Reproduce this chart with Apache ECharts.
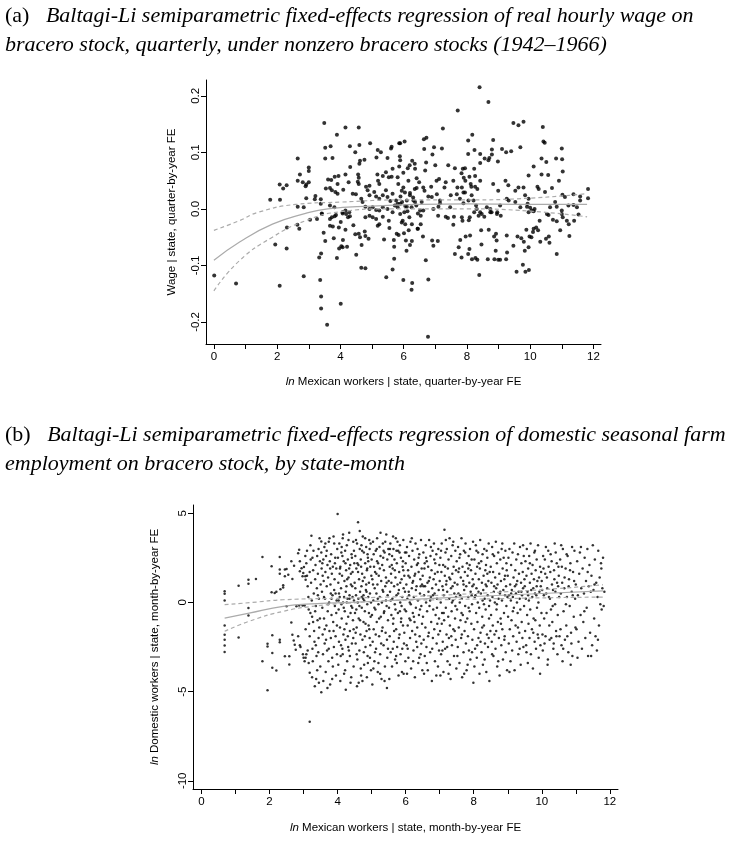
<!DOCTYPE html>
<html>
<head>
<meta charset="utf-8">
<script src="https://cdn.jsdelivr.net/npm/echarts@6/dist/echarts.min.js"></script>
<style>
html, body { margin: 0; padding: 0; background: #fff; }
#chart { width: 751px; height: 846px; }
</style>
</head>
<body>
<div id="chart"></div>
<script>
// ticks
const xTicks = [0, 1, 2, 3, 4, 5, 6, 7, 8, 9, 10, 11, 12]
const xLabels = [0, 2, 4, 6, 8, 10, 12]
const wageTicks = [-0.2, -0.1, 0, 0.1, 0.2]
const empTicks = [-10, -5, 0, 5]

// panel (a): wage residuals vs ln Mexican workers
const wageDots = [
    [3.49,0.152],[4.16,0.144],[4.58,0.144],[3.89,0.131],[4.94,0.116],[5.86,0.116],[3.52,0.108],[3.69,0.111],[4.30,0.111],[4.60,0.113],
    [4.47,0.100],[5.18,0.104],[5.28,0.100],[5.60,0.107],[5.62,0.110],[5.88,0.093],[5.14,0.091],[5.49,0.090],[2.65,0.089],[3.52,0.089],
    [3.75,0.090],[4.76,0.087],[4.62,0.085],[4.60,0.080],[3.00,0.073],[3.00,0.067],[2.72,0.061],[4.31,0.074],[2.65,0.050],[2.81,0.047],
    [2.92,0.043],[2.90,0.040],[3.00,0.047],[2.08,0.043],[2.19,0.036],[2.30,0.042],[3.61,0.052],[3.71,0.051],[3.82,0.057],[3.94,0.058],
    [4.16,0.061],[4.56,0.061],[4.58,0.055],[3.91,0.044],[4.26,0.047],[4.55,0.048],[4.58,0.044],[4.81,0.039],[4.92,0.041],[5.17,0.061],
    [5.19,0.050],[5.23,0.044],[5.34,0.058],[5.44,0.065],[5.53,0.056],[5.62,0.057],[5.65,0.071],[5.86,0.075],[5.81,0.056],[5.83,0.044],
    [3.54,0.036],[3.67,0.037],[3.73,0.033],[3.84,0.030],[3.91,0.027],[4.09,0.034],[4.39,0.027],[4.49,0.026],[3.21,0.023],[3.19,0.017],
    [3.38,0.017],[1.78,0.016],[2.09,0.016],[2.92,0.019],[4.66,0.018],[4.70,0.012],[4.86,0.033],[4.92,0.024],[5.07,0.030],[5.13,0.022],
    [5.23,0.018],[5.34,0.024],[5.44,0.033],[5.49,0.021],[5.65,0.027],[5.76,0.015],[5.81,0.009],[2.65,0.004],[2.84,0.003],[3.38,0.009],
    [3.67,0.006],[3.81,0.003],[3.42,-0.009],[4.07,-0.008],[4.18,-0.009],[4.28,-0.006],[4.79,0.004],[4.92,0.000],[5.02,0.003],[5.13,-0.002],
    [5.23,-0.003],[5.34,0.003],[5.49,0.000],[5.65,-0.006],[5.81,0.003],[5.95,0.012],[6.05,0.005],[6.12,-0.004],[5.72,0.006],[5.58,0.014],
    [6.30,0.020],[6.40,0.006],[6.45,-0.008],[5.90,0.022],[6.20,0.028],
    [0.01,-0.118],[0.70,-0.132],[2.08,-0.136],[2.84,-0.119],[3.36,-0.126],[3.39,-0.155],[3.39,-0.176],[3.58,-0.205],[4.01,-0.168],[1.94,-0.063],
    [2.30,-0.070],[2.31,-0.033],[2.64,-0.028],[2.70,-0.035],[3.04,-0.019],[3.26,-0.018],[3.41,-0.008],[3.33,-0.086],[3.39,-0.079],[3.47,-0.042],
    [3.52,-0.057],[3.67,-0.018],[3.73,-0.015],[3.82,-0.013],[3.86,-0.011],[3.67,-0.030],[3.76,-0.031],[3.79,-0.052],[3.89,-0.087],[3.95,-0.033],
    [4.01,-0.023],[4.07,-0.006],[4.16,-0.003],[3.96,-0.070],[4.03,-0.066],[4.07,-0.068],[4.21,-0.067],[4.08,-0.055],[4.16,-0.037],[4.24,-0.015],
    [4.30,-0.013],[4.41,-0.029],[4.47,-0.045],[4.58,-0.044],[4.62,-0.050],[4.77,-0.040],[4.79,-0.048],[4.50,-0.081],[4.67,-0.064],[4.66,-0.104],
    [4.79,-0.105],[4.89,-0.053],[4.79,-0.015],[4.92,-0.012],[5.02,-0.015],[5.13,-0.018],[5.18,-0.030],[5.23,-0.027],[5.34,-0.014],[5.53,-0.021],
    [5.55,-0.034],[5.38,-0.054],[5.45,-0.121],[5.65,-0.107],[5.70,-0.088],[5.70,-0.067],[5.78,-0.044],[5.84,-0.046],[5.69,-0.055],
    [8.40,0.215],[8.68,0.189],[7.71,0.174],[9.47,0.152],[9.63,0.148],[9.79,0.154],[10.40,0.145],[10.42,0.119],[10.46,0.117],[7.24,0.142],
    [5.89,0.116],[6.03,0.119],[6.64,0.123],[6.72,0.126],[6.65,0.106],[6.96,0.109],[7.21,0.107],[8.17,0.131],[8.04,0.121],[8.83,0.122],
    [9.69,0.109],[11.00,0.107],[8.04,0.097],[8.24,0.104],[8.42,0.097],[8.56,0.089],[8.68,0.086],[8.71,0.090],[8.79,0.096],[8.79,0.105],
    [8.98,0.084],[9.11,0.106],[9.24,0.100],[9.40,0.102],[6.27,0.085],[6.35,0.080],[6.19,0.077],[5.89,0.086],[6.71,0.082],[6.68,0.068],
    [7.00,0.077],[6.91,0.096],[7.41,0.077],[7.62,0.072],[7.87,0.071],[7.94,0.072],[7.83,0.063],[7.90,0.055],[7.95,0.050],[8.08,0.057],
    [8.23,0.071],[8.26,0.058],[8.42,0.081],[8.42,0.050],[5.99,0.064],[6.13,0.072],[6.36,0.071],[6.15,0.050],[6.41,0.054],[6.49,0.047],
    [6.41,0.037],[6.35,0.035],[6.62,0.038],[6.66,0.032],[6.87,0.039],[7.04,0.050],[7.12,0.053],[7.29,0.038],[7.33,0.047],[7.57,0.050],
    [7.70,0.038],[7.84,0.038],[7.89,0.029],[7.94,0.029],[8.12,0.044],[8.14,0.039],[8.26,0.039],[8.33,0.035],[8.83,0.044],[9.22,0.050],
    [9.31,0.042],[8.99,0.032],[9.95,0.059],[10.11,0.075],[10.36,0.089],[10.51,0.083],[10.36,0.061],[10.57,0.060],[10.82,0.089],[11.01,0.088],
    [11.03,0.066],[10.91,0.050],[9.53,0.032],[9.63,0.038],[9.79,0.038],[9.84,0.024],[9.95,0.018],[10.23,0.039],[10.27,0.035],[10.47,0.030],
    [10.69,0.037],[11.83,0.035],[11.83,0.019],[11.02,0.025],[11.10,0.021],[11.37,0.026],[11.58,0.022],[7.49,0.024],[7.68,0.026],[7.78,0.018],
    [7.05,0.026],[6.89,0.021],[6.78,0.022],[7.15,0.015],[5.94,0.032],[5.99,0.038],[6.04,0.029],[6.20,0.024],[6.10,0.015],[6.31,0.015],
    [6.36,0.012],[6.57,0.012],[6.52,-0.003],[8.15,0.024],[8.21,0.015],[8.29,0.006],[8.31,0.000],[8.63,0.003],[8.74,0.000],[9.05,0.006],
    [9.26,0.018],[9.32,0.015],[9.53,0.012],[9.69,0.003],[9.90,0.004],[9.92,0.009],[10.00,0.002],[10.05,-0.003],[10.79,0.012],[10.84,0.004],
    [10.63,0.003],[11.00,-0.003],[11.21,0.006],[11.37,0.007],[11.58,0.015],[11.48,0.003],[7.10,0.004],[7.15,0.010],[6.94,0.000],[7.47,0.003],
    [7.89,0.010],[8.05,0.015],[5.89,0.009],[6.10,0.004],[6.25,0.003],[8.42,-0.006],[8.47,-0.009],[8.74,-0.006],[8.95,-0.009],[10.14,0.000],
    [10.53,-0.009],[11.00,-0.009],
    [6.77,-0.226],[5.99,-0.126],[6.27,-0.131],[6.25,-0.143],[6.78,-0.125],[6.70,-0.091],[8.39,-0.117],[9.57,-0.111],[9.77,-0.099],[9.85,-0.111],
    [9.96,-0.108],[10.84,-0.080],[6.07,-0.056],[6.26,-0.057],[6.20,-0.064],[6.09,-0.074],[6.01,-0.043],[6.16,-0.038],[6.45,-0.035],[6.61,-0.049],
    [6.54,-0.027],[6.90,-0.056],[6.94,-0.065],[7.08,-0.057],[7.62,-0.080],[7.74,-0.068],[7.83,-0.086],[7.79,-0.055],[7.96,-0.049],[8.04,-0.080],
    [8.10,-0.047],[8.08,-0.071],[8.16,-0.089],[8.27,-0.087],[8.33,-0.090],[8.46,-0.063],[8.45,-0.038],[8.69,-0.037],[8.86,-0.049],[8.94,-0.056],
    [8.92,-0.044],[8.91,-0.074],[8.66,-0.089],[8.87,-0.089],[8.99,-0.090],[9.05,-0.090],[9.24,-0.089],[9.27,-0.077],[9.26,-0.047],[9.47,-0.065],
    [9.60,-0.049],[9.72,-0.052],[9.83,-0.074],[9.80,-0.058],[9.95,-0.068],[9.88,-0.037],[9.98,-0.049],[10.04,-0.050],[10.09,-0.041],[10.11,-0.035],
    [10.19,-0.033],[10.25,-0.038],[10.30,-0.021],[10.32,-0.058],[10.50,-0.053],[10.59,-0.049],[10.61,-0.060],[10.95,-0.038],[11.24,-0.048],[11.16,-0.021],
    [11.22,-0.027],[11.03,-0.015],[10.84,-0.022],[10.72,-0.019],[10.58,-0.011],[11.39,-0.021],[11.53,-0.010],[5.89,-0.009],[5.97,-0.021],[6.05,-0.027],
    [6.18,-0.015],[6.26,-0.027],[6.44,-0.035],[6.54,-0.012],[6.62,-0.003],[5.94,-0.024],[6.02,-0.006],[7.09,-0.012],[7.33,-0.014],[7.40,-0.016],
    [7.57,-0.028],[7.59,-0.014],[7.84,-0.015],[7.86,-0.021],[8.06,-0.020],[8.09,-0.015],[8.23,-0.006],[8.37,-0.012],[8.55,-0.014],[8.78,-0.006],
    [8.96,-0.006],[9.07,-0.012],[9.95,-0.006],[10.11,-0.004]
]
const wageFit = [[0,-0.091],[0.8,-0.059],[1.85,-0.027],[2.9,-0.008],[3.6,0.000],[5,0.005],[6.5,0.008],[8,0.009],[10,0.008],[11.8,0.008]]
const wageHi = [[0,-0.038],[0.8,-0.021],[1.4,-0.006],[2.6,0.008],[4,0.012],[6,0.016],[8,0.016],[10,0.019],[11.8,0.027]]
const wageLo = [[0,-0.145],[0.8,-0.092],[1.85,-0.050],[2.9,-0.021],[4,-0.005],[5.5,0.000],[8,0.000],[10,-0.004],[11.8,-0.014]]

// panel (b): domestic employment residuals vs ln Mexican workers
const empDots = [
    [0.68,0.62],[0.68,0.49],[0.68,0.11],[0.68,-1.30],[0.68,-1.81],[0.68,-2.09],[0.68,-2.41],[0.68,-2.78],[1.09,0.93],[1.09,-1.97],
    [1.38,1.27],[1.38,1.04],[1.60,1.31],[1.38,-0.32],[1.38,-0.74],[1.79,2.54],[1.79,-3.30],[1.94,-4.92],[1.94,-2.32],[1.94,-2.47],
    [2.06,2.02],[2.06,0.57],[2.08,-1.84],[2.08,-2.83],[2.08,-3.66],[2.20,-3.82],[2.15,0.53],[2.20,0.60],[2.30,2.54],[2.30,1.84],
    [2.30,1.61],[2.30,-2.09],[2.30,-2.24],[2.32,0.74],[2.40,0.84],[2.40,0.96],[2.45,1.84],[2.45,1.46],[2.50,1.87],[2.55,1.55],
    [2.50,-0.22],[2.45,-3.02],[2.58,-3.48],[2.58,-3.02],
    [2.64,2.30],[2.72,2.06],[2.67,1.31],[2.64,-1.12],[2.67,-1.81],[2.71,-2.13],[2.74,-2.37],[2.77,-2.65],[2.84,2.76],[2.87,2.95],
    [2.89,2.30],[2.89,1.74],[2.94,1.92],[2.97,1.46],[2.99,1.65],[3.01,1.98],[3.05,1.46],[3.06,1.27],[2.79,-0.22],[2.87,-0.18],
    [2.97,-0.18],[3.03,-0.18],[2.84,-1.90],[2.89,-2.40],[2.91,-2.50],[2.98,-2.90],[3.00,-3.10],[3.03,-3.30],[3.06,-3.10],[3.08,-2.90],
    [3.05,2.6],[3.08,2.2],[3.1,1.5],[3.12,0.9],[3.14,0.3],[3.15,-0.4],[3.16,-1.2],[3.18,-1.9],[3.18,-3.95],[3.2,3.2],
    [3.21,2.4],[3.22,1.1],[3.23,3.73],[3.24,0.1],[3.25,-0.8],[3.26,-2.6],[3.27,-3.3],[3.28,1.8],[3.29,2.9],[3.3,0.5],
    [3.31,-1.6],[3.32,-2.2],[3.33,-4.7],[3.34,1.3],[3.35,2.1],[3.36,-0.2],[3.37,-4.29],[3.38,-3.0],[3.39,0.8],[3.4,2.6],
    [3.41,-1.0],[3.42,1.6],[3.43,-2.8],[3.44,3.0],[3.45,0.2],[3.46,-1.4],[3.47,3.6],[3.48,2.3],[3.49,-3.6],[3.5,1.0],
    [3.52,3.41],[3.52,-5.04],[3.12,-2.7],[3.2,-0.6],[3.28,-1.1],[3.36,-2.4],[3.44,-2.0],[3.1,2.9],[3.18,1.7],[3.26,2.5],
    [3.34,-0.5],[3.42,0.4],[3.48,-0.9],[3.15,-3.4],[3.4,-3.8],[3.06,-1.5],[3.25,-4.2],[3.45,-4.5],[3.18,-6.69],
    [3.52,2.8],[3.53,1.9],[3.54,0.6],[3.55,-0.3],[3.56,-1.8],[3.57,-2.9],[3.58,2.4],[3.59,1.2],[3.6,-0.9],[3.61,3.1],
    [3.62,-2.3],[3.63,0.2],[3.64,1.7],[3.65,-3.9],[3.66,2.6],[3.67,-1.3],[3.68,0.9],[3.69,-2.7],[3.7,2.1],[3.71,-0.5],
    [3.72,1.4],[3.73,-3.3],[3.74,3.4],[3.75,0.0],[3.76,-1.6],[3.77,2.3],[3.78,-4.6],[3.79,1.0],[3.8,-2.0],[3.81,2.7],
    [3.82,-0.7],[3.83,1.6],[3.84,-3.1],[3.85,0.4],[3.86,2.0],[3.87,-1.1],[3.88,3.7],[3.89,-2.5],[3.9,0.7],[3.91,1.3],
    [3.92,-0.2],[3.93,2.5],[3.94,-1.9],[3.95,-4.1],[3.96,1.9],[3.97,0.1],[3.98,-2.9],[3.99,3.0],[3.55,2.2],[3.62,-1.5],
    [3.68,2.9],[3.74,-2.6],[3.8,0.5],[3.86,-3.6],[3.92,2.2],[3.98,-1.3],[3.58,-4.4],[3.7,-4.8],[3.84,-4.3],[3.64,3.3],
    [3.76,3.6],[3.9,3.3],[3.6,0.3],[3.72,-0.1],[3.82,0.2],[3.94,0.5],[3.56,1.5],[3.66,-2.1],[3.78,1.9],[3.88,-1.6],[3.96,-0.6],
    [4.0,4.95],[4.01,2.5],[4.02,1.1],[4.03,-0.4],[4.04,-2.2],[4.05,3.3],[4.06,0.3],[4.07,-1.4],[4.08,2.0],[4.09,-3.0],
    [4.1,0.8],[4.11,2.8],[4.12,-0.9],[4.13,1.5],[4.14,-2.6],[4.15,3.6],[4.16,0.0],[4.17,-1.8],[4.18,2.3],[4.19,-4.0],
    [4.2,1.2],[4.21,-0.5],[4.22,2.9],[4.23,-2.1],[4.24,0.6],[4.25,1.8],[4.26,-1.2],[4.27,3.2],[4.28,-3.3],[4.29,0.2],
    [4.3,2.4],[4.31,-0.8],[4.32,1.4],[4.33,-2.7],[4.34,3.9],[4.35,0.4],[4.36,-1.6],[4.37,2.1],[4.38,-4.5],[4.39,1.0],
    [4.4,-0.2],[4.41,2.7],[4.42,-2.3],[4.43,0.9],[4.44,1.7],[4.45,-1.0],[4.46,3.4],[4.47,-3.6],[4.48,0.1],[4.49,2.2],
    [4.02,-3.5],[4.06,1.6],[4.1,-2.4],[4.14,2.6],[4.18,-0.3],[4.22,-3.8],[4.26,0.9],[4.3,-1.9],[4.34,1.9],[4.38,-0.6],
    [4.42,2.5],[4.46,-2.0],[4.04,0.5],[4.12,3.1],[4.2,-1.5],[4.28,1.3],[4.36,-3.0],[4.44,0.3],[4.08,-4.4],[4.24,-4.9],
    [4.4,-4.2],[4.16,3.8],[4.32,3.5],[4.48,2.9],[4.03,0.1],[4.11,-0.1],[4.19,0.3],[4.27,0.0],[4.35,0.2],[4.43,-0.3],
    [4.07,1.9],[4.23,2.2],[4.39,1.6],[4.15,-2.9],[4.31,-2.5],[4.47,-1.5],
    [4.5,1.1],[4.51,-0.6],[4.52,2.6],[4.53,-2.3],[4.54,0.4],[4.55,1.9],[4.56,-1.4],[4.57,3.3],[4.58,-3.2],[4.59,0.0],
    [4.6,4.5],[4.61,2.1],[4.62,-0.9],[4.63,1.3],[4.64,-2.7],[4.65,3.0],[4.66,0.6],[4.67,-1.8],[4.68,2.4],[4.69,-4.1],
    [4.7,0.9],[4.71,-0.3],[4.72,1.6],[4.73,-2.1],[4.74,3.7],[4.75,0.2],[4.76,-1.1],[4.77,2.8],[4.78,-3.5],[4.79,1.4],
    [4.8,-0.5],[4.81,2.2],[4.82,-2.5],[4.83,0.7],[4.84,3.1],[4.85,-1.6],[4.86,1.8],[4.87,-0.1],[4.88,-3.0],[4.89,2.5],
    [4.9,0.3],[4.91,-1.3],[4.92,1.1],[4.93,3.5],[4.94,-2.0],[4.95,0.5],[4.96,2.0],[4.97,-0.8],[4.98,-3.8],[4.99,1.5],
    [4.52,0.8],[4.56,-2.9],[4.6,1.7],[4.64,-0.2],[4.68,-3.7],[4.72,2.9],[4.76,0.4],[4.8,-1.9],[4.84,1.0],[4.88,2.7],
    [4.92,-0.6],[4.96,-2.4],[4.54,3.5],[4.62,-4.5],[4.7,3.2],[4.78,0.1],[4.86,-4.2],[4.94,3.0],[4.58,2.2],[4.66,-1.0],
    [4.74,1.2],[4.82,-1.2],[4.9,2.3],[4.98,0.0],[4.53,-1.7],[4.61,0.2],[4.69,2.0],[4.77,-2.8],[4.85,0.6],[4.93,-1.5],
    [4.57,-4.7],[4.73,-4.4],[4.89,-3.4],[4.65,4.0],[4.81,3.6],[4.97,3.3],[4.55,-0.4],[4.71,0.3],[4.87,1.9],[4.95,-3.1],
    [5.0,2.4],[5.01,-0.7],[5.02,1.3],[5.03,-2.2],[5.04,3.4],[5.05,0.1],[5.06,-1.5],[5.07,2.0],[5.08,-3.3],[5.09,0.8],
    [5.1,1.7],[5.11,-0.4],[5.12,2.9],[5.13,-2.6],[5.14,0.5],[5.15,-1.1],[5.16,3.6],[5.17,1.0],[5.18,-3.9],[5.19,2.2],
    [5.2,-0.1],[5.21,1.5],[5.22,-1.9],[5.23,3.1],[5.24,0.3],[5.25,-2.9],[5.26,2.6],[5.27,-0.8],[5.28,1.2],[5.29,-4.3],
    [5.3,0.0],[5.31,2.1],[5.32,-1.4],[5.33,3.3],[5.34,0.6],[5.35,-2.4],[5.36,1.8],[5.37,-0.5],[5.38,2.8],[5.39,-3.6],
    [5.4,0.9],[5.41,-1.7],[5.42,1.4],[5.43,3.8],[5.44,-0.2],[5.45,-2.1],[5.46,2.4],[5.47,0.4],[5.48,-1.0],[5.49,3.0],
    [5.02,-4.6],[5.06,2.7],[5.1,-2.8],[5.14,1.6],[5.18,0.2],[5.22,-0.9],[5.26,3.9],[5.3,-1.6],[5.34,2.5],[5.38,-4.4],
    [5.42,0.1],[5.46,-3.1],[5.04,1.0],[5.08,-0.3],[5.12,-1.8],[5.16,2.3],[5.2,-3.4],[5.24,1.9],[5.28,-2.3],[5.32,0.7],
    [5.36,-0.6],[5.4,3.4],[5.44,1.1],[5.48,-2.6],[5.05,-3.7],[5.15,3.0],[5.25,-4.0],[5.35,2.9],[5.45,-4.8],
    [5.5,1.2],[5.51,-0.3],[5.52,2.7],[5.53,-1.9],[5.54,0.6],[5.55,3.3],[5.56,-2.8],[5.57,1.6],[5.58,-0.7],[5.59,2.1],
    [5.6,-3.6],[5.61,0.2],[5.62,1.9],[5.63,-1.2],[5.64,3.0],[5.65,-2.2],[5.66,0.9],[5.67,2.4],[5.68,-0.1],[5.69,-3.2],
    [5.7,1.4],[5.71,3.6],[5.72,-1.5],[5.73,0.4],[5.74,2.2],[5.75,-2.5],[5.76,1.0],[5.77,-0.6],[5.78,2.9],[5.79,-4.1],
    [5.8,0.7],[5.81,1.7],[5.82,-1.8],[5.83,3.2],[5.84,0.0],[5.85,-2.9],[5.86,2.5],[5.87,-0.9],[5.88,1.3],[5.89,-3.9],
    [5.9,0.3],[5.91,2.0],[5.92,-1.3],[5.93,3.5],[5.94,0.8],[5.95,-2.3],[5.96,1.5],[5.97,-0.4],[5.98,2.8],[5.99,-3.3],
    [5.52,-4.3],[5.56,0.1],[5.6,2.6],[5.64,-0.9],[5.68,1.8],[5.72,-3.0],[5.76,3.4],[5.8,-2.0],[5.84,1.1],[5.88,-0.2],
    [5.92,2.3],[5.96,-1.7],[5.54,3.0],[5.62,-2.6],[5.7,-0.4],[5.78,0.5],[5.86,-1.1],[5.94,-4.0],[5.58,1.1],[5.66,-1.6],
    [5.74,-3.4],[5.82,2.8],[5.9,-2.6],[5.98,0.6],[5.53,2.0],[5.63,3.7],[5.73,2.9],[5.83,-0.5],[5.93,1.8],
    [6.0,2.2],[6.01,-0.5],[6.02,1.0],[6.03,-2.4],[6.04,3.1],[6.05,0.2],[6.06,-1.3],[6.07,1.8],[6.08,-3.1],[6.09,0.6],
    [6.1,2.6],[6.11,-0.9],[6.12,1.4],[6.13,-2.0],[6.14,3.4],[6.15,-0.1],[6.16,-3.7],[6.17,2.0],[6.18,0.8],[6.19,-1.6],
    [6.2,2.9],[6.21,-0.6],[6.22,1.2],[6.23,-2.7],[6.24,0.3],[6.25,2.4],[6.26,-1.1],[6.27,-4.2],[6.28,1.6],[6.29,3.3],
    [6.3,-0.3],[6.31,-2.2],[6.32,0.9],[6.33,2.1],[6.34,-1.4],[6.35,3.0],[6.36,0.1],[6.37,-3.4],[6.38,1.7],[6.39,-0.7],
    [6.4,2.7],[6.41,-1.9],[6.42,0.5],[6.43,1.3],[6.44,-2.9],[6.45,3.5],[6.46,-0.2],[6.47,1.9],[6.48,-1.2],[6.49,-3.8],
    [6.02,2.8],[6.06,-2.6],[6.1,0.4],[6.14,-1.0],[6.18,3.6],[6.22,-3.3],[6.26,1.5],[6.3,0.7],[6.34,-2.5],[6.38,2.5],
    [6.42,-0.4],[6.46,-2.3],[6.04,-4.0],[6.12,0.0],[6.2,1.1],[6.28,-1.8],[6.36,2.2],[6.44,0.9],[6.08,1.5],[6.24,-0.8],
    [6.4,-3.1],[6.48,1.0],
    [6.5,1.5],[6.51,-0.8],[6.52,2.8],[6.53,-2.1],[6.54,0.4],[6.55,1.9],[6.56,-3.0],[6.57,0.9],[6.58,-1.4],[6.59,3.2],
    [6.6,0.0],[6.61,-2.5],[6.62,2.3],[6.63,-0.5],[6.64,1.1],[6.65,-3.8],[6.66,2.0],[6.67,0.6],[6.68,-1.7],[6.69,3.5],
    [6.7,-0.2],[6.71,1.4],[6.72,-2.8],[6.73,2.6],[6.74,0.3],[6.75,-1.1],[6.76,1.8],[6.77,-4.4],[6.78,0.8],[6.79,2.9],
    [6.8,-2.0],[6.81,-0.4],[6.82,1.3],[6.83,3.3],[6.84,-1.5],[6.85,0.5],[6.86,-3.3],[6.87,2.2],[6.88,-0.7],[6.89,1.0],
    [6.9,2.7],[6.91,-2.3],[6.92,0.2],[6.93,-1.2],[6.94,1.7],[6.95,-3.6],[6.96,3.0],[6.97,0.7],[6.98,-0.9],[6.99,2.1],
    [6.54,-4.0],[6.6,2.5],[6.66,-1.9],[6.72,0.1],[6.78,-2.6],[6.84,2.4],[6.9,-4.1],[6.96,-1.8],[6.52,0.9],[6.62,-3.4],
    [6.74,3.1],[6.86,1.6],[6.98,-2.7],[6.56,2.2],[6.68,1.2],[6.8,0.4],[6.92,-0.3],
    [7.0,1.2],[7.01,-1.6],[7.02,2.5],[7.03,0.0],[7.04,-2.9],[7.05,1.7],[7.06,3.3],[7.07,-0.6],[7.08,0.9],[7.09,-2.2],
    [7.1,2.1],[7.11,-3.9],[7.12,0.4],[7.13,-1.0],[7.14,4.07],[7.15,1.5],[7.16,-2.6],[7.17,2.8],[7.18,-0.3],[7.19,1.0],
    [7.2,-1.8],[7.21,3.0],[7.22,0.6],[7.23,-3.3],[7.24,1.9],[7.25,-0.8],[7.26,2.4],[7.27,-2.0],[7.28,0.2],[7.29,3.6],
    [7.3,-1.3],[7.31,1.3],[7.32,-4.3],[7.33,0.8],[7.34,2.6],[7.35,-0.5],[7.36,-2.4],[7.37,1.6],[7.38,3.2],[7.39,0.1],
    [7.4,-1.5],[7.41,2.0],[7.42,-3.0],[7.43,0.5],[7.44,1.1],[7.45,-0.9],[7.46,2.9],[7.47,-2.1],[7.48,0.3],[7.49,-3.7],
    [7.02,-4.1],[7.06,-1.2],[7.1,0.7],[7.16,2.0],[7.22,-2.5],[7.28,1.4],[7.34,-1.9],[7.4,3.4],[7.46,-0.2],[7.04,2.9],
    [7.12,-0.6],[7.2,1.2],[7.3,-3.5],[7.38,0.9],[7.48,1.8],[7.08,-2.7],[7.18,3.5],[7.26,-4.0],[7.36,0.0],[7.44,-1.6],
    [7.5,2.3],[7.51,-0.4],[7.52,1.0],[7.53,-2.5],[7.54,3.1],[7.55,0.5],[7.56,-1.4],[7.57,1.9],[7.58,-3.4],[7.59,0.0],
    [7.6,2.7],[7.61,-1.0],[7.62,1.4],[7.63,-2.0],[7.64,3.6],[7.65,0.2],[7.66,-4.2],[7.67,2.0],[7.68,-0.7],[7.69,1.2],
    [7.7,-2.8],[7.71,2.9],[7.72,0.7],[7.73,-1.6],[7.74,1.7],[7.75,-0.2],[7.76,3.3],[7.77,-2.3],[7.78,0.9],[7.79,-3.8],
    [7.8,2.2],[7.81,-0.9],[7.82,1.5],[7.83,-1.9],[7.84,0.3],[7.85,2.6],[7.86,-2.7],[7.87,1.1],[7.88,-0.5],[7.89,3.0],
    [7.9,-3.2],[7.91,0.6],[7.92,1.8],[7.93,-1.2],[7.94,2.4],[7.95,-0.1],[7.96,-2.1],[7.97,1.3],[7.98,3.4],[7.99,-4.5],
    [7.52,-3.0],[7.58,2.5],[7.64,-0.6],[7.7,1.0],[7.76,-1.1],[7.82,-3.5],[7.88,2.1],[7.94,0.4],[7.55,1.7],[7.65,-1.8],
    [7.75,2.8],[7.85,-0.3],[7.95,-2.8],[7.6,0.4],[7.72,-4.0],[7.84,1.9],[7.96,0.9],
    [8.0,1.0],[8.01,-1.5],[8.02,2.4],[8.03,0.3],[8.04,-2.6],[8.05,1.6],[8.06,3.2],[8.07,-0.6],[8.08,0.8],[8.09,-3.1],
    [8.1,2.0],[8.11,-1.1],[8.12,0.0],[8.13,2.8],[8.14,-2.0],[8.15,1.3],[8.16,-0.3],[8.17,-4.0],[8.18,1.9],[8.19,3.5],
    [8.2,-1.7],[8.21,0.5],[8.22,2.3],[8.23,-2.8],[8.24,1.1],[8.25,-0.8],[8.26,2.7],[8.27,-3.5],[8.28,0.7],[8.29,1.5],
    [8.3,-1.3],[8.31,3.0],[8.32,0.2],[8.33,-2.3],[8.34,1.8],[8.35,-0.4],[8.36,2.1],[8.37,-3.9],[8.38,0.9],[8.39,-1.8],
    [8.4,2.5],[8.41,0.4],[8.42,-2.5],[8.43,1.2],[8.44,3.3],[8.45,-0.9],[8.46,-4.4],[8.47,1.7],[8.48,0.1],[8.49,-1.6],
    [8.02,-3.6],[8.08,2.9],[8.14,0.6],[8.2,-2.2],[8.26,0.1],[8.32,-3.2],[8.38,2.9],[8.44,-2.0],[8.05,0.4],[8.15,2.2],
    [8.25,-1.4],[8.35,1.0],[8.45,-0.2],[8.1,-2.4],[8.3,-0.1],[8.4,1.6],
    [8.5,2.0],[8.51,-0.7],[8.52,1.1],[8.53,-2.2],[8.54,3.1],[8.55,0.3],[8.56,-1.3],[8.57,1.7],[8.58,-3.0],[8.59,0.6],
    [8.6,2.6],[8.61,-1.8],[8.62,0.0],[8.63,1.4],[8.64,-2.6],[8.65,3.4],[8.66,0.8],[8.67,-0.4],[8.68,2.2],[8.69,-3.6],
    [8.7,1.0],[8.71,-1.1],[8.72,2.8],[8.73,0.2],[8.74,-2.0],[8.75,1.6],[8.76,-4.1],[8.77,0.5],[8.78,2.4],[8.79,-0.9],
    [8.8,1.2],[8.81,-2.4],[8.82,3.0],[8.83,0.1],[8.84,-1.5],[8.85,1.9],[8.86,-3.2],[8.87,0.7],[8.88,2.5],[8.89,-0.6],
    [8.9,1.3],[8.91,-1.9],[8.92,0.4],[8.93,2.9],[8.94,-2.8],[8.95,0.9],[8.96,-0.2],[8.97,1.8],[8.98,-3.8],[8.99,0.3],
    [8.54,-2.9],[8.6,0.9],[8.66,-1.6],[8.72,-3.3],[8.78,0.6],[8.84,3.3],[8.9,-2.1],[8.96,2.2],[8.56,2.7],[8.68,-0.1],
    [8.8,-1.2],[8.92,1.5],
    [9.0,1.5],[9.01,-0.8],[9.02,2.5],[9.03,-2.3],[9.04,0.4],[9.05,3.0],[9.06,-1.5],[9.07,1.0],[9.08,-3.3],[9.09,0.1],
    [9.1,2.1],[9.11,-1.0],[9.12,0.7],[9.13,-2.7],[9.14,2.8],[9.15,0.3],[9.16,-1.9],[9.17,1.4],[9.18,-0.3],[9.19,3.3],
    [9.2,-3.8],[9.21,0.9],[9.22,1.8],[9.23,-1.3],[9.24,0.5],[9.25,2.4],[9.26,-2.2],[9.27,0.0],[9.28,1.2],[9.29,-0.6],
    [9.3,2.7],[9.31,-2.9],[9.32,0.6],[9.33,1.6],[9.34,-1.7],[9.35,0.2],[9.36,3.1],[9.37,-0.4],[9.38,-3.5],[9.39,1.1],
    [9.4,2.2],[9.41,-1.1],[9.42,0.4],[9.43,-2.0],[9.44,1.7],[9.45,0.8],[9.46,-2.5],[9.47,2.6],[9.48,-0.2],[9.49,1.3],
    [9.05,-3.9],[9.15,-0.5],[9.25,1.0],[9.35,-2.6],[9.45,3.2],[9.1,0.5],[9.3,-1.4],[9.4,0.6],
    [9.5,0.9],[9.51,-1.6],[9.52,2.3],[9.53,0.2],[9.54,-2.4],[9.55,1.5],[9.56,3.0],[9.57,-0.7],[9.58,0.6],[9.59,-3.4],
    [9.6,1.9],[9.61,-1.2],[9.62,0.1],[9.63,2.6],[9.64,-2.0],[9.65,1.1],[9.66,-0.4],[9.67,3.3],[9.68,-2.9],[9.69,0.7],
    [9.7,1.6],[9.71,-1.5],[9.72,0.3],[9.73,2.1],[9.74,-3.7],[9.75,0.8],[9.76,-0.9],[9.77,1.3],[9.78,2.8],[9.79,-2.2],
    [9.8,0.5],[9.81,-1.0],[9.82,1.8],[9.83,-2.6],[9.84,0.4],[9.85,2.4],[9.86,-0.3],[9.87,1.2],[9.88,-1.8],[9.89,3.2],
    [9.9,0.0],[9.91,-3.1],[9.92,1.4],[9.93,0.6],[9.94,-1.3],[9.95,2.0],[9.96,-2.4],[9.97,0.9],[9.98,1.7],[9.99,-0.6],
    [9.55,-2.8],[9.65,2.2],[9.75,-1.7],[9.85,0.9],[9.95,-4.0],[9.6,0.4],[9.8,2.9],[9.9,-2.0],
    [10.0,1.2],[10.02,-1.8],[10.04,2.6],[10.06,0.4],[10.08,-2.3],[10.1,1.6],[10.12,3.1],[10.14,-0.6],[10.16,0.8],[10.18,-3.2],
    [10.2,2.0],[10.22,-1.3],[10.24,0.2],[10.26,2.7],[10.28,-2.0],[10.3,1.0],[10.32,-0.2],[10.34,-2.6],[10.36,1.8],[10.38,3.3],
    [10.4,0.6],[10.42,-1.6],[10.44,2.2],[10.46,-2.9],[10.48,0.9],[10.01,0.7],[10.03,-2.7],[10.05,1.9],[10.07,-0.9],[10.09,2.4],
    [10.11,-1.9],[10.13,0.5],[10.15,1.4],[10.17,-3.5],[10.19,2.9],[10.21,0.3],[10.23,-2.1],[10.25,1.7],[10.27,-0.4],[10.29,2.3],
    [10.31,-1.1],[10.33,0.7],[10.35,-2.3],[10.37,1.3],[10.39,-0.1],[10.41,2.8],[10.43,-1.9],[10.45,1.1],[10.47,-0.7],[10.49,2.0],
    [10.5,1.5],[10.52,-1.9],[10.54,2.4],[10.56,0.5],[10.58,-2.4],[10.6,1.1],[10.62,3.0],[10.64,-0.5],[10.66,0.8],[10.68,-2.1],
    [10.7,1.9],[10.72,-1.3],[10.74,0.3],[10.76,2.6],[10.78,-2.8],[10.8,1.3],[10.82,-0.2],[10.84,2.2],[10.86,-1.7],[10.88,0.6],
    [10.9,-3.0],[10.92,1.7],[10.94,-0.8],[10.96,2.9],[10.98,0.2],[10.51,0.3],[10.55,-1.5],[10.59,2.0],[10.63,-2.6],[10.67,1.4],
    [10.71,-0.1],[10.75,-1.9],[10.79,0.9],[10.83,1.8],[10.87,-2.3],[10.91,0.4],[10.95,1.2],[10.99,-1.4],[10.57,3.2],[10.73,2.7],
    [10.89,3.1],[10.61,-3.3],[10.85,-3.5],
    [11.0,1.0],[11.02,-1.5],[11.04,2.3],[11.06,0.4],[11.08,-2.2],[11.1,1.6],[11.12,2.8],[11.14,-0.7],[11.16,0.8],[11.18,-2.6],
    [11.2,1.9],[11.22,-1.1],[11.24,0.5],[11.26,2.5],[11.28,-2.0],[11.3,1.2],[11.32,-0.3],[11.34,3.0],[11.36,-3.0],[11.38,0.9],
    [11.4,2.1],[11.42,-1.7],[11.44,0.6],[11.46,1.5],[11.48,-2.4],[11.5,3.2],[11.52,0.7],[11.54,-0.9],[11.56,2.4],[11.58,-1.9],
    [11.6,1.1],[11.62,-2.7],[11.64,0.3],[11.66,2.9],[11.68,-1.3],[11.7,1.4],[11.72,-0.1],[11.74,2.2],[11.76,-0.4],[11.78,0.8],
    [11.8,2.5],[11.05,-3.1],[11.15,3.1],[11.25,-0.5],[11.35,1.7],[11.45,-3.0],[11.55,1.0],[11.65,-2.1],[11.75,1.9],[11.82,-0.2],[11.84,0.6]
]
const empFit = [[0.68,-0.88],[1.4,-0.6],[2.4,-0.22],[3.4,-0.07],[4.35,0.0],[5.3,0.08],[6.5,0.2],[8,0.33],[10,0.5],[11.8,0.65]]
const empHi = [[0.68,-0.13],[1.5,0.0],[2.4,0.15],[4.3,0.24],[5.5,0.3],[7,0.4],[9,0.6],[10.5,0.78],[11.8,0.99]]
const empLo = [[0.68,-1.62],[1.4,-1.06],[2.4,-0.5],[3.4,-0.19],[4.35,-0.04],[5.5,0.1],[7,0.15],[9,0.22],[10.5,0.27],[11.8,0.3]]

let chart = echarts.init(document.getElementById('chart'))

let axisFont = { fontFamily: 'Liberation Sans', fontSize: 11.5, color: '#000' }
let lnRich = { i: { fontStyle: 'italic', fontFamily: 'Liberation Sans', fontSize: 11.5, color: '#000' } }
let grey = '#ababab'

let xAxisOf = (grid, name, gap) => ({
    type: 'value', gridIndex: grid, min: -0.25, max: 12.24,
    name: name, nameLocation: 'middle', nameGap: gap,
    nameTextStyle: Object.assign({ rich: lnRich }, axisFont),
    axisLine: { show: true, onZero: false, lineStyle: { color: '#000', width: 1 } },
    axisTick: { show: true, length: 5, customValues: xTicks, lineStyle: { color: '#000' } },
    axisLabel: Object.assign({ customValues: xLabels, margin: 7 }, axisFont),
    splitLine: { show: false }
})

let yAxisOf = (grid, min, max, ticks, fmt, name, gap) => ({
    type: 'value', gridIndex: grid, min: min, max: max,
    name: name, nameLocation: 'middle', nameGap: gap, nameRotate: 90,
    nameTextStyle: Object.assign({ rich: lnRich }, axisFont),
    axisLine: { show: true, onZero: false, lineStyle: { color: '#000', width: 1 } },
    axisTick: { show: true, length: 5, customValues: ticks, lineStyle: { color: '#000' } },
    axisLabel: Object.assign({ customValues: ticks, rotate: 90, margin: 4, formatter: fmt }, axisFont),
    splitLine: { show: false }
})

let fitLine = (x, y, data, dashed) => ({
    type: 'line', xAxisIndex: x, yAxisIndex: y, data: data, smooth: true,
    showSymbol: false, silent: true, z: 3,
    lineStyle: { color: grey, width: 1.2, type: dashed ? [4, 3] : 'solid' }
})

let titleLine = (top, text) => ({
    type: 'text', left: 5, top: top,
    style: {
        text: text, fill: '#000',
        font: 'italic 22px "Liberation Serif"',
        rich: {
            n: { fontStyle: 'normal', fontFamily: 'Liberation Serif', fontSize: 22, fill: '#000' },
            t: { fontStyle: 'italic', fontFamily: 'Liberation Serif', fontSize: 22, fill: '#000' }
        }
    }
})

chart.setOption({
    animation: false,
    backgroundColor: '#fff',
    graphic: [
        titleLine(5, '{n|(a)}   {t|Baltagi-Li semiparametric fixed-effects regression of real hourly wage on}'),
        titleLine(34, '{t|bracero stock, quarterly, under nonzero bracero stocks (1942–1966)}'),
        titleLine(424, '{n|(b)}   {t|Baltagi-Li semiparametric fixed-effects regression of domestic seasonal farm}'),
        titleLine(453, '{t|employment on bracero stock, by state-month}')
    ],
    grid: [
        { left: 206, right: 150, top: 80, height: 264 },
        { left: 193, right: 133, top: 505, height: 284 }
    ],
    xAxis: [
        xAxisOf(0, '{i|ln} Mexican workers | state, quarter-by-year FE', 32),
        xAxisOf(1, '{i|ln} Mexican workers | state, month-by-year FE', 33)
    ],
    yAxis: [
        yAxisOf(0, -0.239, 0.228, wageTicks, v => v.toFixed(1), 'Wage | state, quarter-by-year FE', 28),
        yAxisOf(1, -10.46, 5.46, empTicks, v => String(v), '{i|ln} Domestic workers | state, month-by-year FE', 32)
    ],
    series: [
        {
            type: 'scatter', xAxisIndex: 0, yAxisIndex: 0, data: wageDots,
            symbolSize: 4, itemStyle: { color: '#000' }, silent: true, z: 2
        },
        fitLine(0, 0, wageFit, false),
        fitLine(0, 0, wageHi, true),
        fitLine(0, 0, wageLo, true),
        {
            type: 'scatter', xAxisIndex: 1, yAxisIndex: 1, data: empDots,
            symbolSize: 2.5, itemStyle: { color: '#000' }, silent: true, z: 2
        },
        fitLine(1, 1, empFit, false),
        fitLine(1, 1, empHi, true),
        fitLine(1, 1, empLo, true)
    ]
})

window.addEventListener('resize', () => chart.resize(), false)
</script>
</body>
</html>
